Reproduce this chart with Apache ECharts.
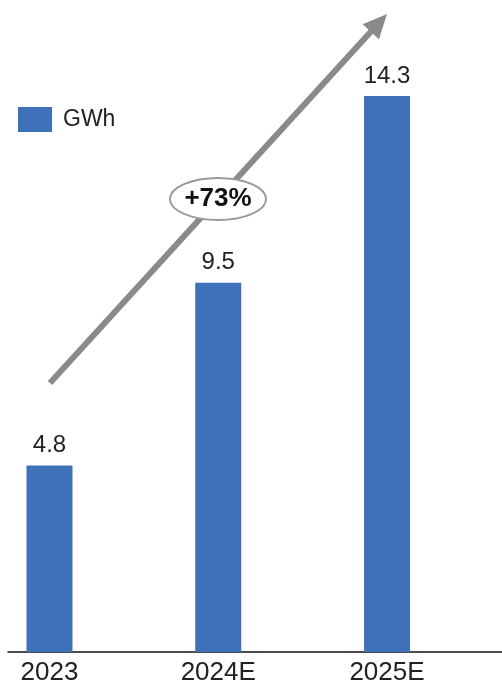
<!DOCTYPE html>
<html>
<head>
<meta charset="utf-8">
<script src="https://cdn.jsdelivr.net/npm/echarts@6/dist/echarts.min.js"></script>
<style>
  html, body { margin: 0; padding: 0; background: #fff; }
  #chart { width: 502px; height: 686px; }
</style>
</head>
<body>
<div id="chart"></div>
<script>
// Annual capacity, GWh
const years = ['2023', '2024E', '2025E'];
const capacityGWh = [4.8, 9.5, 14.3];
const seriesName = 'GWh';
const growthLabel = '+73%';

const FONT = '"Liberation Sans", Arial, sans-serif';
const BAR = '#3f71ba';
const ARROW = '#8a8a8a';

// Growth arrow running from lower left to upper right
const tail = [50, 383];
const tip = [387, 14];
const dx = tip[0] - tail[0], dy = tip[1] - tail[1];
const len = Math.hypot(dx, dy);
const ux = dx / len, uy = dy / len;
const nx = -uy, ny = ux;
const headLen = 24, headHalf = 11;
const base = [tip[0] - ux * headLen, tip[1] - uy * headLen];

const chart = echarts.init(document.getElementById('chart'), null, { renderer: 'canvas' });

chart.setOption({
  animation: false,
  backgroundColor: '#fff',
  legend: {
    left: 18,
    top: 107,
    padding: 0,
    itemWidth: 34,
    itemHeight: 25,
    icon: 'rect',
    data: [seriesName],
    textStyle: { fontFamily: FONT, fontSize: 23, color: '#222', padding: [0, 0, 0, 6] }
  },
  grid: { left: 8, right: 0, top: 30, bottom: 32, containLabel: false },
  xAxis: {
    // year index on a continuous scale so the bars sit off-centre within the frame
    type: 'value',
    min: -0.2459,
    max: 2.6815,
    axisLine: { show: true, onZero: false, lineStyle: { color: '#111', width: 1.5 } },
    axisTick: { show: false },
    splitLine: { show: false },
    axisLabel: {
      customValues: years.map((_, i) => i),
      formatter: v => years[Math.round(v)] || '',
      fontFamily: FONT, fontSize: 26, color: '#222', margin: 8
    }
  },
  yAxis: { type: 'value', min: 0, max: 16, show: false, splitLine: { show: false } },
  series: [
    {
      name: seriesName,
      type: 'bar',
      data: capacityGWh.map((v, i) => [i, v]),
      barWidth: 46,
      itemStyle: { color: BAR },
      label: {
        show: true,
        position: 'top',
        distance: 8,
        fontFamily: FONT,
        fontSize: 24,
        color: '#222',
        formatter: p => p.value[1].toFixed(1)
      }
    }
  ],
  graphic: [
    {
      type: 'line',
      z: 10,
      shape: { x1: tail[0], y1: tail[1], x2: base[0] + ux * 2, y2: base[1] + uy * 2 },
      style: { stroke: ARROW, lineWidth: 6 }
    },
    {
      type: 'polygon',
      z: 10,
      shape: {
        points: [
          tip,
          [base[0] + nx * headHalf, base[1] + ny * headHalf],
          [base[0] - nx * headHalf, base[1] - ny * headHalf]
        ]
      },
      style: { fill: ARROW }
    },
    {
      type: 'ellipse',
      z: 11,
      shape: { cx: 218, cy: 199, rx: 48, ry: 21 },
      style: { fill: '#fff', stroke: '#9a9a9a', lineWidth: 1.8 }
    },
    {
      type: 'text',
      z: 12,
      x: 218,
      y: 199,
      style: {
        text: growthLabel,
        fontFamily: FONT,
        fontSize: 26,
        fontWeight: 'bold',
        fill: '#111',
        align: 'center',
        verticalAlign: 'middle'
      }
    }
  ]
});
</script>
</body>
</html>
